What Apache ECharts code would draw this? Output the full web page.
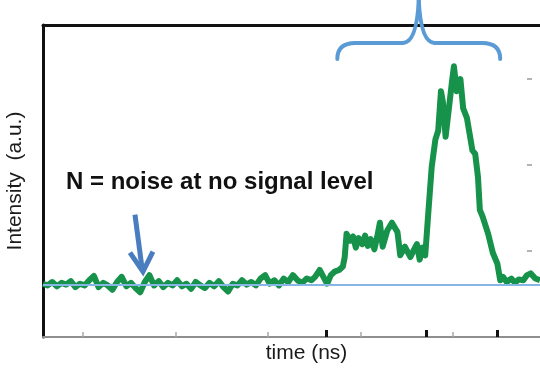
<!DOCTYPE html>
<html>
<head>
<meta charset="utf-8">
<title>Intensity vs time</title>
<script src="https://cdn.jsdelivr.net/npm/echarts@6/dist/echarts.min.js"></script>
<style>
html,body{margin:0;padding:0;background:#fff;}
#echart1{width:540px;height:371px;}
</style>
</head>
<body>
<div id="echart1"></div>
<script>
// trace before the signal (time in ns, intensity in a.u.)
var noiseTime = [0.57,0.62,0.67,0.72,0.77,0.82,0.87,0.92,0.97,1.02,1.07,1.12,1.17,1.22,1.27,1.32,1.37,1.42,1.47,1.52,
                 1.57,1.62,1.67,1.72,1.77,1.82,1.87,1.92,1.97,2.02,2.07,2.12,2.17,2.22,2.27,2.32,2.37,2.42,2.47,2.52,
                 2.57,2.62,2.67,2.72,2.77,2.82,2.87,2.92,2.97,3.02,3.07,3.12,3.17,3.22,3.27,3.32,3.37,3.42];
var noiseValue = [0.62,0.60,0.64,0.59,0.63,0.61,0.65,0.58,0.62,0.60,0.66,0.71,0.58,0.63,0.60,0.55,0.64,0.70,0.59,0.63,
                  0.57,0.52,0.64,0.72,0.60,0.65,0.58,0.63,0.60,0.66,0.59,0.62,0.56,0.64,0.60,0.57,0.63,0.59,0.65,0.58,
                  0.53,0.62,0.60,0.66,0.61,0.64,0.60,0.68,0.72,0.62,0.66,0.60,0.68,0.64,0.72,0.66,0.63,0.68];
// the signal part
var signalTime = [3.47,3.51,3.56,3.61,3.64,3.68,3.72,3.77,3.81,3.83,3.85,3.89,3.92,3.95,3.98,4.02,4.05,4.08,4.11,4.15,
                  4.18,4.21,4.24,4.29,4.34,4.40,4.43,4.48,4.54,4.58,4.61,4.64,4.67,4.70,4.73,4.77,4.81,4.84,4.87,4.89,
                  4.92,4.96,4.99,5.01,5.04,5.08,5.11,5.15,5.21,5.24,5.27,5.29,5.32,5.38,5.43,5.48,5.51,5.54,5.58,5.63,
                  5.67,5.71,5.76,5.80,5.84,5.89,5.94];
var signalValue = [0.66,0.70,0.78,0.68,0.62,0.72,0.76,0.78,0.82,0.93,1.20,1.12,1.17,1.04,1.15,1.08,1.18,1.06,1.14,1.02,
                   1.16,1.33,1.05,1.24,1.33,1.22,0.95,1.05,0.93,1.02,1.08,0.90,1.04,0.95,1.40,1.98,2.30,2.40,2.86,2.74,
                   2.33,2.70,2.98,3.15,2.86,3.00,2.66,2.55,2.17,2.13,1.86,1.48,1.40,1.20,0.98,0.85,0.66,0.70,0.64,0.68,
                   0.63,0.67,0.66,0.72,0.74,0.68,0.66];
var baseLevel = 0.605;
var grayTicks = [1,2,3,4,5];
var blackTicks = [3.63,4.71,5.48];
var rightTicks = [1,2,3];
var braceRange = [3.75,5.51];
var arrowTarget = [1.65,0.76];
var timeMin = 0.57, timeMax = 5.94;
var intensityMax = 3.63;

function initChart(domId){
    var myChart = echarts.init(document.getElementById(domId));
    var trace = [];
    noiseTime.forEach(function(t,i){ trace.push([t,noiseValue[i]]); });
    signalTime.forEach(function(t,i){ trace.push([t,signalValue[i]]); });

    var option = {
        backgroundColor: '#fff',
        animation: false,
        grid: { left: 43, right: 0, top: 25, bottom: 34, outerBoundsMode: 'none', containLabel: false },
        xAxis: [{
            type: 'value', position: 'bottom', min: timeMin, max: timeMax,
            axisLine: { show: true, lineStyle: { color: '#8f8f8f', width: 2 } },
            axisTick: { show: true, inside: true, length: 5, customValues: grayTicks,
                        lineStyle: { color: '#a8a8a8', width: 1.5 } },
            axisLabel: { show: false },
            splitLine: { show: false },
            name: 'time (ns)', nameLocation: 'middle', nameGap: 6,
            nameTextStyle: { fontSize: 21, fontFamily: 'Arial', color: '#1a1a1a', padding: [0,0,0,30] }
        },{
            type: 'value', position: 'bottom', min: timeMin, max: timeMax,
            axisLine: { show: false },
            axisTick: { show: true, inside: true, length: 7, customValues: blackTicks,
                        lineStyle: { color: '#111', width: 3 } },
            axisLabel: { show: false },
            splitLine: { show: false }
        },{
            type: 'value', position: 'top', min: timeMin, max: timeMax,
            axisLine: { show: true, lineStyle: { color: '#111', width: 3 } },
            axisTick: { show: false },
            axisLabel: { show: false },
            splitLine: { show: false }
        }],
        yAxis: [{
            type: 'value', position: 'left', min: 0, max: intensityMax,
            axisLine: { show: true, lineStyle: { color: '#111', width: 3 } },
            axisTick: { show: false },
            axisLabel: { show: false },
            splitLine: { show: false },
            name: 'Intensity  (a.u.)', nameLocation: 'middle', nameGap: 17,
            nameTextStyle: { fontSize: 21, fontFamily: 'Arial', color: '#1a1a1a' }
        },{
            type: 'value', position: 'right', min: 0, max: intensityMax, offset: -8,
            axisLine: { show: false },
            axisTick: { show: true, inside: true, length: 5, customValues: rightTicks,
                        lineStyle: { color: '#9a9a9a', width: 1.5 } },
            axisLabel: { show: false },
            splitLine: { show: false }
        }],
        series: [{
            name: 'trace', type: 'line', data: trace, showSymbol: false, z: 2,
            lineStyle: { color: '#17924a', width: 6, join: 'round' }
        },{
            name: 'base', type: 'line', data: [[timeMin,baseLevel],[timeMax,baseLevel]],
            showSymbol: false, z: 3,
            lineStyle: { color: '#86b6e6', width: 2 }
        }]
    };
    myChart.setOption(option);

    // annotations: brace over the signal, arrow to the noise, label
    var L = myChart.convertToPixel({xAxisIndex:0,yAxisIndex:0},[braceRange[0],baseLevel])[0];
    var R = myChart.convertToPixel({xAxisIndex:0,yAxisIndex:0},[braceRange[1],baseLevel])[0];
    var M = (L+R)/2;
    var braceTop = 0, braceMid = 43, braceEnd = 59;
    var braceStyle = { stroke: '#5b9bd5', lineWidth: 4, fill: null, lineCap: 'round' };
    function curve(x1,y1,cx,cy,x2,y2){
        return { type: 'bezierCurve', shape: { x1:x1, y1:y1, cpx1:cx, cpy1:cy, x2:x2, y2:y2 }, style: braceStyle, z: 10 };
    }
    function seg(x1,y1,x2,y2){
        return { type: 'line', shape: { x1:x1, y1:y1, x2:x2, y2:y2 }, style: braceStyle, z: 10 };
    }

    var tip = myChart.convertToPixel({xAxisIndex:0,yAxisIndex:0},arrowTarget);
    var arrowColor = '#4a7dbf';

    myChart.setOption({
        graphic: [
            curve(L,braceEnd,L,braceMid,L+18,braceMid),
            seg(L+18,braceMid,M-16,braceMid),
            curve(M-16,braceMid,M-2,braceMid,M,braceTop),
            curve(M,braceTop,M+2,braceMid,M+16,braceMid),
            seg(M+16,braceMid,R-18,braceMid),
            curve(R-18,braceMid,R,braceMid,R,braceEnd),
        {
            type: 'line', shape: { x1: tip[0]-8, y1: tip[1]-57, x2: tip[0]-1, y2: tip[1]-4 },
            style: { stroke: arrowColor, lineWidth: 5 }, z: 10
        },{
            type: 'polyline', shape: { points: [[tip[0]-13,tip[1]-19],[tip[0],tip[1]],[tip[0]+10,tip[1]-20]] },
            style: { stroke: arrowColor, lineWidth: 5, fill: null, lineJoin: 'miter' }, z: 10
        },{
            type: 'text', left: 66, top: 170,
            style: { text: 'N = noise at no signal level', fontSize: 24, fontWeight: 'bold',
                     fontFamily: 'Arial', fill: '#111' }, z: 10
        }]
    });
}
initChart('echart1');
</script>
</body>
</html>
